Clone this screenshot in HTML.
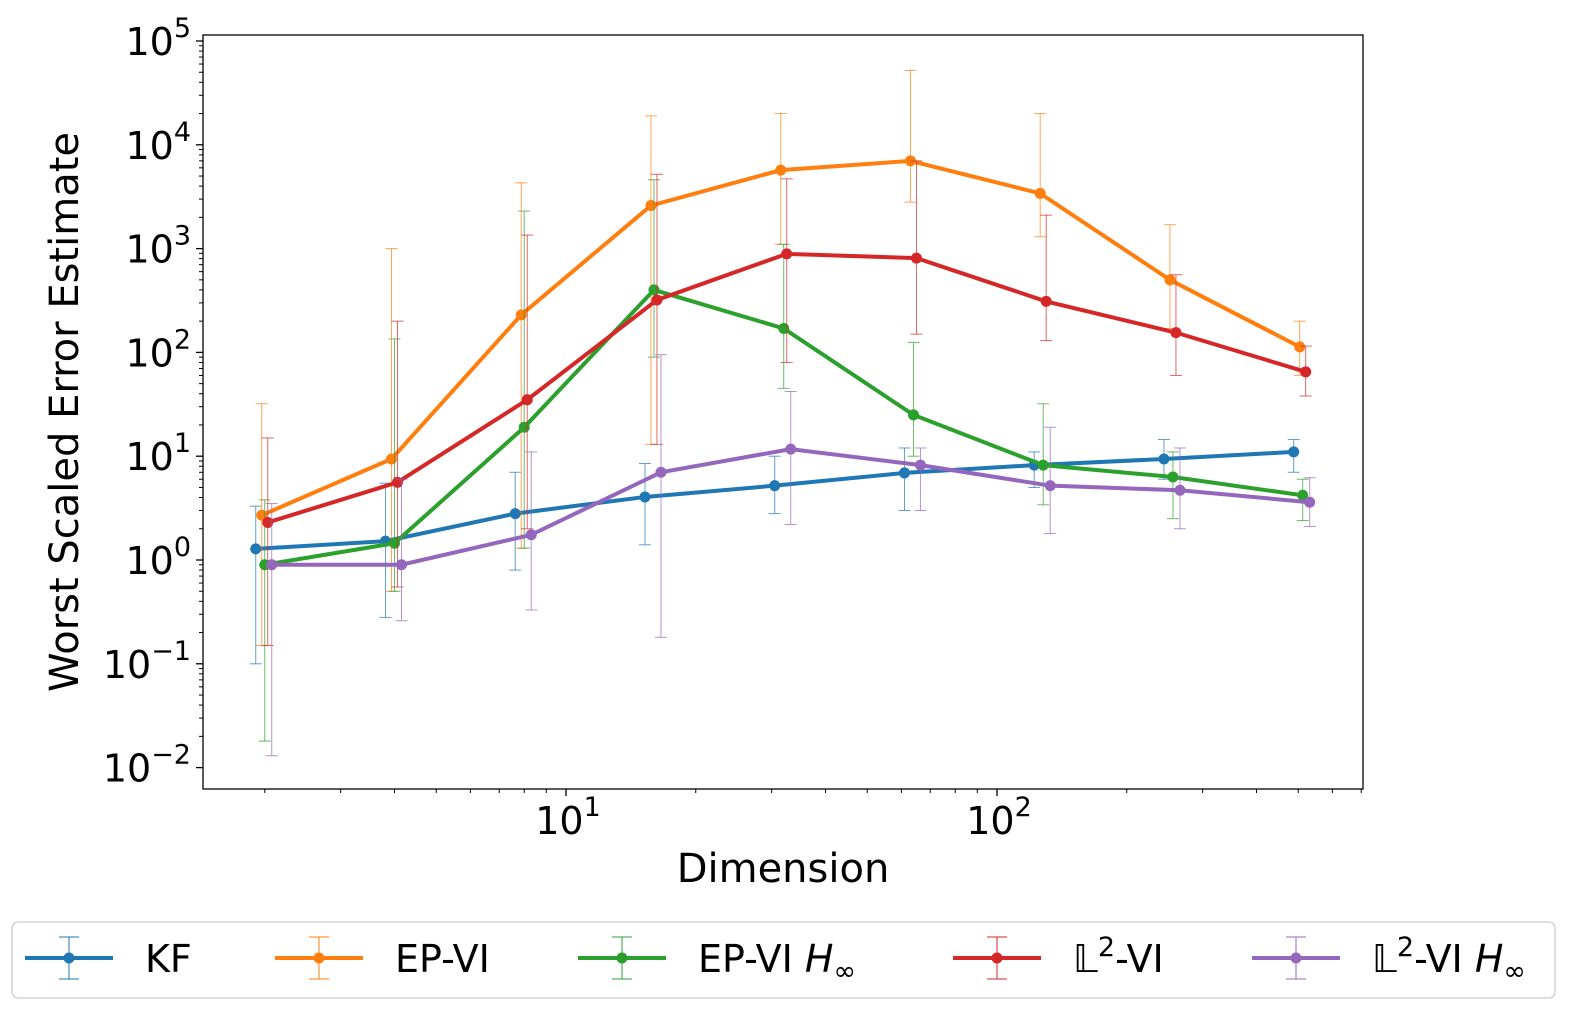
<!DOCTYPE html>
<html><head><meta charset="utf-8">
<style>
body{margin:0;background:#fff;font-family:"Liberation Sans","DejaVu Sans",sans-serif;}
svg text{font-family:"DejaVu Sans","Liberation Sans",sans-serif;fill:#000;}
</style></head>
<body>
<svg id="chart" width="1593" height="1029" xmlns="http://www.w3.org/2000/svg">
<rect x="0" y="0" width="1593" height="1029" fill="#fff"/>
<g id="plot"></g>
<text x="783" y="882" font-size="40" text-anchor="middle">Dimension</text>
<text x="78" y="412" font-size="40" text-anchor="middle" transform="rotate(-90 78 412)">Worst Scaled Error Estimate</text>
<g id="legend"></g>
</svg>
<script>
const dims = [2,4,8,16,32,64,128,256,512];
const seriesNames = ["KF","EP-VI","EP-VI H∞","L2-VI","L2-VI H∞"];
const kfVals = [1.28,1.52,2.8,4.05,5.2,6.9,8.2,9.4,11];
const kfUp = [3.3,5.5,7,8.5,10,12,11,14.5,14.5];
const kfLo = [0.1,0.28,0.8,1.4,2.8,3,5,6,7];
const epVals = [2.7,9.4,230,2600,5700,7000,3400,500,113];
const epUp = [32,1000,4300,19000,20000,52000,20000,1700,200];
const epLo = [0.15,0.5,1.3,13,1100,2800,1300,170,60];
const epHVals = [0.9,1.45,19,400,170,25,8.2,6.3,4.2];
const epHUp = [3.8,135,2300,4600,1100,125,32,11,6];
const epHLo = [0.018,0.5,1.3,90,45,10,3.4,2.5,2.4];
const l2Vals = [2.3,5.6,35,320,890,810,310,155,65];
const l2Up = [15,200,1350,5200,4700,7000,2100,560,115];
const l2Lo = [0.15,0.55,2,13,80,150,130,60,38];
const l2HVals = [0.9,0.9,1.75,7,11.7,8.2,5.2,4.7,3.6];
const l2HUp = [3.5,6,11,95,42,12,19,12,6.2];
const l2HLo = [0.013,0.26,0.33,0.18,2.2,3,1.8,2.0,2.1];

const NS="http://www.w3.org/2000/svg";
const X0=203,X1=1363,Y0=35,Y1=789;
function xs(v){return 566+431*Math.log10(v/10);}
function ys(v){return 560-103.8*Math.log10(v);}
function mk(t,a,p){const e=document.createElementNS(NS,t);for(const k in a)e.setAttribute(k,a[k]);p.appendChild(e);return e;}
const plot=document.getElementById('plot');
const frame=mk('rect',{x:X0,y:Y0,width:X1-X0,height:Y1-Y0,fill:'none',stroke:'#000','stroke-width':1.3},plot);


for(let p=-2;p<=5;p++){
  const y=ys(Math.pow(10,p));
  mk('line',{x1:X0-7,x2:X0,y1:y,y2:y,stroke:'#000','stroke-width':1.3},plot);
  const t=mk('text',{x:X0-12,y:y+14,'font-size':38,'text-anchor':'end'},plot);
  
  
  t.textContent='10';
  const s=mk('tspan',{dy:-18,'font-size':27},t);s.textContent=(p<0?'−':'')+Math.abs(p);
  if(p<5)for(let m=2;m<10;m++){const yy=ys(m*Math.pow(10,p));mk('line',{x1:X0-4,x2:X0,y1:yy,y2:yy,stroke:'#000','stroke-width':1},plot);}
}
for(const p of [1,2]){
  const x=xs(Math.pow(10,p));
  mk('line',{x1:x,x2:x,y1:Y1,y2:Y1+7,stroke:'#000','stroke-width':1.3},plot);
  const t=mk('text',{x:x+2,y:Y1+45,'font-size':38,'text-anchor':'middle'},plot);
  
  
  t.textContent='10';
  const s=mk('tspan',{dy:-18,'font-size':27},t);s.textContent=p;
}
for(let p=0;p<=2;p++)for(let m=1;m<10;m++){const v=m*Math.pow(10,p);const x=xs(v);if(x>X0&&x<X1&&m>1)mk('line',{x1:x,x2:x,y1:Y1,y2:Y1+4,stroke:'#000','stroke-width':1},plot);}
const series=[
 {vals:kfVals,up:kfUp,lo:kfLo,c:'#1f77b4',off:-9,n:'kf'},
 {vals:epVals,up:epUp,lo:epLo,c:'#ff7f0e',off:-3,n:'ep-vi'},
 {vals:epHVals,up:epHUp,lo:epHLo,c:'#2ca02c',off:0,n:'ep-vi-hinf'},
 {vals:l2Vals,up:l2Up,lo:l2Lo,c:'#d62728',off:3,n:'l2-vi'},
 {vals:l2HVals,up:l2HUp,lo:l2HLo,c:'#9467bd',off:7,n:'l2-vi-hinf'}];
series.forEach(s=>{
  const g=mk('g',{},plot);
  
  
  let pts=[];
  dims.forEach((d,i)=>{
    const x=xs(d)+s.off;
    const yu=ys(s.up[i]),yl=ys(s.lo[i]);
    mk('line',{x1:x,x2:x,y1:yu,y2:yl,stroke:s.c,'stroke-width':1,opacity:0.7},g);
    mk('line',{x1:x-6,x2:x+6,y1:yu,y2:yu,stroke:s.c,'stroke-width':1,opacity:0.7},g);
    mk('line',{x1:x-6,x2:x+6,y1:yl,y2:yl,stroke:s.c,'stroke-width':1,opacity:0.7},g);
    pts.push(x+','+ys(s.vals[i]));
  });
  const l=mk('polyline',{points:pts.join(' '),fill:'none',stroke:s.c,'stroke-width':4},g);
  
  
  dims.forEach((d,i)=>{
    const c=mk('circle',{cx:xs(d)+s.off,cy:ys(s.vals[i]),r:5.5,fill:s.c},g);
    
    
  });
});
const lg=document.getElementById('legend');
const lb=mk('rect',{x:12,y:922,width:1543,height:76,rx:6,fill:'#fff',stroke:'#ccc','stroke-width':1.3},lg);


const lx=[25,275,578,953,1252];
series.forEach((s,i)=>{
  const g=mk('g',{},lg);
  
  
  const x=lx[i],y=958;
  mk('line',{x1:x,x2:x+88,y1:y,y2:y,stroke:s.c,'stroke-width':4},g);
  mk('line',{x1:x+44,x2:x+44,y1:y-21,y2:y+21,stroke:s.c,'stroke-width':1},g);
  mk('line',{x1:x+34,x2:x+54,y1:y-21,y2:y-21,stroke:s.c,'stroke-width':1},g);
  mk('line',{x1:x+34,x2:x+54,y1:y+21,y2:y+21,stroke:s.c,'stroke-width':1},g);
  mk('circle',{cx:x+44,cy:y,r:5.5,fill:s.c},g);
  const t=mk('text',{x:x+120,y:y+14,'font-size':38},g);
  if(i==0){t.textContent='KF';}
  else if(i==1){t.textContent='EP-VI';}
  else if(i==2){const a=mk('tspan',{},t);a.textContent='EP-VI ';const b=mk('tspan',{'font-style':'italic'},t);b.textContent='H';const c=mk('tspan',{dy:8,'font-size':27},t);c.textContent='∞';}
  else{const a=mk('tspan',{},t);a.textContent='𝕃';const b=mk('tspan',{dy:-16,'font-size':27},t);b.textContent='2';const c=mk('tspan',{dy:16},t);c.textContent='-VI';
    if(i==4){const d=mk('tspan',{'font-style':'italic'},t);d.textContent=' H';const e=mk('tspan',{dy:8,'font-size':27},t);e.textContent='∞';}}
});
</script>
</body></html>
